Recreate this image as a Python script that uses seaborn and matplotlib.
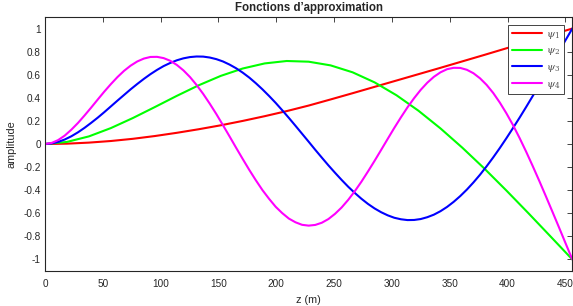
import pandas as pd
import numpy as np
import seaborn as sns
import matplotlib.pyplot as plt

# sample positions along z (m)
z_a = [0, 19, 38, 57, 76, 95, 114, 133, 152, 171, 190, 209, 228, 247, 266, 285,
       304, 323, 342, 361, 380, 399, 418, 437, 456]
z_b = [0, 5.7, 11.4, 17.1, 22.8, 28.5, 34.2, 39.9, 45.6, 51.3, 57, 62.7, 68.4,
       74.1, 79.8, 85.5, 91.2, 96.9, 102.6, 108.3, 114, 119.7, 125.4, 131.1,
       136.8, 142.5, 148.2, 153.9, 159.6, 165.3, 171, 176.7, 182.4, 188.1,
       193.8, 199.5, 205.2, 210.9, 216.6, 222.3, 228, 233.7, 239.4, 245.1,
       250.8, 256.5, 262.2, 267.9, 273.6, 279.3, 285, 290.7, 296.4, 302.1,
       307.8, 313.5, 319.2, 324.9, 330.6, 336.3, 342, 347.7, 353.4, 359.1,
       364.8, 370.5, 376.2, 381.9, 387.6, 393.3, 399, 404.7, 410.4, 416.1,
       421.8, 427.5, 433.2, 438.9, 444.6, 450.3, 456]

# values
psi1 = [0, 0.003, 0.012, 0.026, 0.045, 0.069, 0.097, 0.128, 0.162, 0.200, 0.241,
        0.285, 0.333, 0.386, 0.440, 0.495, 0.550, 0.605, 0.660, 0.716, 0.772,
        0.829, 0.886, 0.943, 1.0]
psi2 = [0, 0.018, 0.066, 0.138, 0.225, 0.320, 0.417, 0.509, 0.590, 0.654, 0.698,
        0.719, 0.713, 0.681, 0.621, 0.534, 0.422, 0.288, 0.135, -0.033, -0.213,
        -0.403, -0.599, -0.799, -1.0]
psi3 = [0, 0.005, 0.018, 0.039, 0.067, 0.101, 0.140, 0.183, 0.228, 0.276, 0.326,
        0.376, 0.425, 0.474, 0.520, 0.564, 0.605, 0.642, 0.675, 0.702, 0.725,
        0.742, 0.753, 0.758, 0.757, 0.749, 0.735, 0.715, 0.688, 0.656, 0.618,
        0.575, 0.526, 0.473, 0.416, 0.356, 0.292, 0.226, 0.158, 0.089, 0.020,
        -0.050, -0.118, -0.185, -0.249, -0.311, -0.370, -0.424, -0.474, -0.519,
        -0.558, -0.591, -0.618, -0.639, -0.652, -0.659, -0.658, -0.650, -0.634,
        -0.612, -0.582, -0.545, -0.501, -0.451, -0.395, -0.333, -0.266, -0.193,
        -0.116, -0.035, 0.050, 0.138, 0.228, 0.321, 0.416, 0.512, 0.608, 0.706,
        0.804, 0.902, 1.0]
psi4 = [0, 0.009, 0.034, 0.073, 0.124, 0.182, 0.247, 0.315, 0.385, 0.454, 0.519,
        0.580, 0.634, 0.679, 0.715, 0.740, 0.754, 0.755, 0.744, 0.721, 0.685,
        0.638, 0.580, 0.511, 0.434, 0.349, 0.259, 0.163, 0.066, -0.033, -0.130,
        -0.225, -0.315, -0.400, -0.475, -0.544, -0.599, -0.646, -0.678, -0.700,
        -0.707, -0.701, -0.682, -0.650, -0.605, -0.550, -0.484, -0.409, -0.327,
        -0.238, -0.146, -0.051, 0.045, 0.140, 0.231, 0.318, 0.397, 0.469, 0.531,
        0.582, 0.621, 0.648, 0.660, 0.659, 0.643, 0.613, 0.569, 0.512, 0.442,
        0.359, 0.266, 0.164, 0.052, -0.067, -0.192, -0.321, -0.454, -0.589,
        -0.725, -0.863, -1.0]

labels = [r'$\psi_1$', r'$\psi_2$', r'$\psi_3$', r'$\psi_4$']
colors = ['#ff0000', '#00ff00', '#0000ff', '#ff00ff']

df = pd.concat([
    pd.DataFrame({'z': z_a, 'amp': psi1, 'f': labels[0]}),
    pd.DataFrame({'z': z_a, 'amp': psi2, 'f': labels[1]}),
    pd.DataFrame({'z': z_b, 'amp': psi3, 'f': labels[2]}),
    pd.DataFrame({'z': z_b, 'amp': psi4, 'f': labels[3]}),
])

sns.set_style('white')
plt.rcParams['font.family'] = ['Liberation Sans', 'DejaVu Sans']
plt.rcParams['mathtext.fontset'] = 'dejavuserif'

fig = plt.figure(figsize=(5.73, 3.06), dpi=100)
ax = fig.add_axes([0.0785, 0.1144, 0.9203, 0.83])

sns.lineplot(data=df, x='z', y='amp', hue='f', palette=dict(zip(labels, colors)),
             linewidth=1.5, ax=ax)

ax.set_xlim(0, 456)
ax.set_ylim(-1.1, 1.1)
ax.set_xticks(np.arange(0, 451, 50))
ax.set_yticks([-1, -0.8, -0.6, -0.4, -0.2, 0, 0.2, 0.4, 0.6, 0.8, 1])
ax.set_yticklabels(['-1', '-0.8', '-0.6', '-0.4', '-0.2', '0', '0.2', '0.4', '0.6', '0.8', '1'])
ax.tick_params(axis='both', direction='in', length=3.5, width=0.6, labelsize=7.2,
               colors='#262626', top=True, right=True)
ax.tick_params(axis='x', pad=6)
ax.tick_params(axis='y', pad=3)
for s in ax.spines.values():
    s.set_color('#262626')
    s.set_linewidth(0.8)

ax.set_xlabel('z (m)', fontsize=7.8, color='#262626', labelpad=4)
ax.set_ylabel('amplitude', fontsize=7.8, color='#262626', labelpad=5)
ax.set_title('Fonctions d’approximation', fontsize=8.3, fontweight='bold', pad=4)

leg = ax.legend(loc='upper right', bbox_to_anchor=(0.985, 0.969), fontsize=7.5,
                frameon=True, fancybox=False, framealpha=1, edgecolor='#262626',
                handlelength=2.9, borderpad=0.35, labelspacing=0.45,
                handletextpad=0.4, borderaxespad=0)
leg.get_frame().set_linewidth(0.6)
for t in leg.get_texts():
    t.set_color('#555555')

fig.savefig('out.png', dpi=100)
